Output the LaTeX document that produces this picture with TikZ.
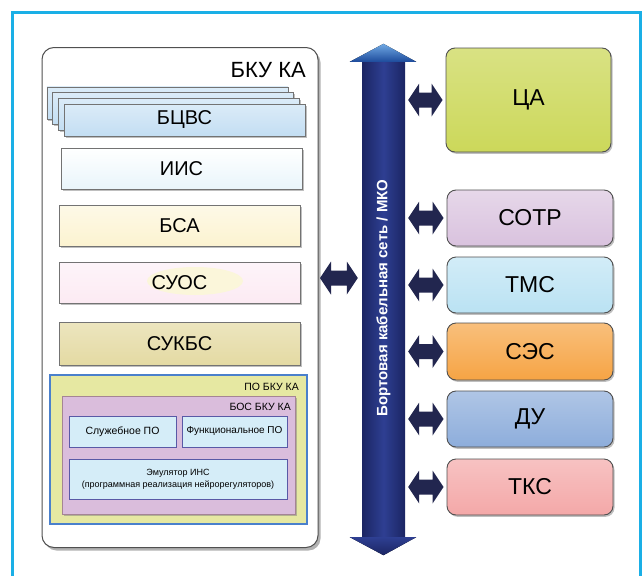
\documentclass[tikz,border=0pt]{standalone}
\usepackage{fontspec}
\setmainfont{Liberation Sans}
\usetikzlibrary{shadows,calc}
\definecolor{cyanframe}{HTML}{1AAFE6}
\definecolor{navyarr}{HTML}{22264F}
\definecolor{busA}{HTML}{2E3F92}
\definecolor{busB}{HTML}{1B2563}
\definecolor{headA}{HTML}{4C93DC}
\definecolor{headB}{HTML}{1D4B9C}
\definecolor{boxline}{HTML}{505050}
\definecolor{cCA}{HTML}{CCD85A}
\definecolor{cSOTR}{HTML}{D9C2DE}
\definecolor{cTMS}{HTML}{BAE2F3}
\definecolor{cSES}{HTML}{F6A444}
\definecolor{cDU}{HTML}{8DADDB}
\definecolor{cTKS}{HTML}{F4A8A8}
\definecolor{cBCVS}{HTML}{C3DEF3}
\definecolor{cIIS}{HTML}{E9F5FB}
\definecolor{cBSA}{HTML}{FCF3D0}
\definecolor{cSUOS}{HTML}{FCEAF3}
\definecolor{cGLOW}{HTML}{FBF6DA}
\definecolor{cSUKBS}{HTML}{E4DAA3}
\definecolor{cPO}{HTML}{E6E8A2}
\definecolor{cPOline}{HTML}{4A80CC}
\definecolor{cBOS}{HTML}{DABDDC}
\definecolor{cINNER}{HTML}{D5EDF8}
\newcommand\fatarrow[2]{\fill[navyarr] let \p1=(#1), \p2=(#2) in
  (\x1,\y1) -- (\x1+11pt,\y1+16.5pt) -- (\x1+11pt,\y1+7.5pt) -- (\x2-11pt,\y1+7.5pt)
  -- (\x2-11pt,\y1+16.5pt) -- (\x2,\y1) -- (\x2-11pt,\y1-16.5pt) -- (\x2-11pt,\y1-7.5pt)
  -- (\x1+11pt,\y1-7.5pt) -- (\x1+11pt,\y1-16.5pt) -- cycle;}
\tikzset{
  shd/.style={drop shadow={shadow xshift=1.5pt, shadow yshift=-1.8pt, opacity=.5}},
  rbox/.style={draw=boxline, line width=0.9pt, rounded corners=9pt, shd,
    minimum width=166pt, minimum height=56pt, inner sep=0pt,
    font=\fontsize{23}{26}\selectfont},
  lbox/.style={draw=boxline!80, line width=0.8pt, shd, minimum width=241pt,
    minimum height=41pt, inner sep=0pt, font=\fontsize{20}{24}\selectfont},
  ibox/.style={draw=gray!70!blue, line width=0.7pt, fill=cINNER,
    drop shadow={shadow xshift=1pt, shadow yshift=-1.2pt, opacity=.45},
    minimum height=31pt, inner sep=0pt, align=center},
  small/.style={font=\fontsize{10.5}{12}\selectfont, inner sep=0pt}
}
\begin{document}
\begin{tikzpicture}[x=1pt,y=-1pt]
\useasboundingbox (0,0) rectangle (643,576);
\fill[white] (0,0) rectangle (643,576);
% cyan frame
\draw[cyanframe, line width=3pt] (12,576) -- (12,12) -- (640,12) -- (640,576);

% BKU KA container
\node[draw=boxline, line width=1pt, fill=white, rounded corners=12pt,
  drop shadow={shadow xshift=2.5pt, shadow yshift=-3pt, opacity=.6},
  minimum width=276pt, minimum height=500pt] (bku) at (180,297.5) {};
\node[anchor=east, font=\fontsize{22}{26}\selectfont, inner sep=0pt] (bkutitle) at (306,70) {БКУ КА};

% BCVS stack
\node[lbox, top color=cBCVS!60!white, bottom color=cBCVS, minimum height=32pt] (s3) at (167.4,102.9) {};
\node[lbox, top color=cBCVS!60!white, bottom color=cBCVS, minimum height=32pt] (s2) at (173.1,108.6) {};
\node[lbox, top color=cBCVS!60!white, bottom color=cBCVS, minimum height=32pt] (s1) at (178.8,114.3) {};
\node[lbox, top color=cBCVS!60!white, bottom color=cBCVS, minimum height=32pt] (bcvs) at (184.5,120) {БЦВС};

\node[lbox, top color=white, bottom color=cIIS] (iis) at (181.5,168.5) {ИИС};
\node[lbox, top color=cBSA!50!white, bottom color=cBSA] (bsa) at (179.5,225.5) {БСА};
\node[lbox, top color=cSUOS!50!white, bottom color=cSUOS] (suos) at (179.5,282.5) {};
\fill[cGLOW] (195,281) ellipse [x radius=48pt, y radius=14pt];
\node[font=\fontsize{20}{24}\selectfont, inner sep=0pt] (suostext) at (179.5,282.5) {СУОС};
\node[lbox, top color=cSUKBS!70!white, bottom color=cSUKBS, minimum height=43pt] (sukbs) at (179.5,343.5) {СУКБС};

% PO BKU KA
\node[draw=cPOline, line width=1.3pt, fill=cPO, minimum width=257pt, minimum height=149pt, inner sep=0pt] (po) at (178.5,449.5) {};
\node[small, anchor=north east] (potitle) at (299,383) {ПО БКУ КА};
\node[draw=gray!80!magenta, line width=0.8pt, fill=cBOS, shd, minimum width=233pt, minimum height=118pt, inner sep=0pt] (bos) at (178.5,455) {};
\node[small, anchor=north east] (bostitle) at (291,403) {БОС БКУ КА};
\node[ibox, minimum width=107pt, font=\fontsize{10.5}{12}\selectfont] (serv) at (122.5,431.5) {Служебное ПО};
\node[ibox, minimum width=105pt, font=\fontsize{10}{12}\selectfont] (func) at (234.5,431.5) {Функциональное ПО};
\node[ibox, minimum width=218pt, minimum height=40pt, font=\fontsize{9}{12}\selectfont] (emul) at (178,479) {Эмулятор ИНС\\(программная реализация нейрорегуляторов)};

% bus
\node[left color=busB, right color=busB, middle color=busA, minimum width=43pt, minimum height=475pt, inner sep=0pt] (bus) at (383.5,299.5) {};
\fill[top color=headA!80!white, bottom color=headB] ($(bus.north west)+(-12,0)$) -- ($(bus.north)+(0,-18)$) -- ($(bus.north east)+(11,0)$) -- cycle;
\fill[top color=busA, bottom color=busB] ($(bus.south west)+(-12,0)$) -- ($(bus.south)+(0,18)$) -- ($(bus.south east)+(11,0)$) -- cycle;
\node[rotate=90, text=white, font=\bfseries\fontsize{15}{18}\selectfont, inner sep=0pt] (bustext) at (383.5,298) {Бортовая кабельная сеть / МКО};

% right boxes
\node[rbox, top color=cCA!75!white, bottom color=cCA, minimum width=165pt, minimum height=104pt] (ca) at (528.5,100) {ЦА};
\node[rbox, top color=cSOTR!65!white, bottom color=cSOTR] (sotr) at (530,218) {СОТР};
\node[rbox, top color=cTMS!65!white, bottom color=cTMS] (tms) at (530,285) {ТМС};
\node[rbox, top color=cSES!70!white, bottom color=cSES, minimum height=57pt] (ses) at (530,351.5) {СЭС};
\node[rbox, top color=cDU!70!white, bottom color=cDU] (du) at (530,419) {ДУ};
\node[rbox, top color=cTKS!70!white, bottom color=cTKS] (tks) at (530,487) {ТКС};

% connectors
\coordinate (bkuport) at (318,278);
\fatarrow{$(bkuport)+(2,0)$}{$(bus.west |- bkuport)+(-4,0)$}
\foreach \nm in {ca,sotr,tms,ses,du,tks}{
  \fatarrow{$(bus.east |- \nm.west)+(3,0)$}{$(\nm.west)+(-3,0)$}
}
\end{tikzpicture}
\end{document}
